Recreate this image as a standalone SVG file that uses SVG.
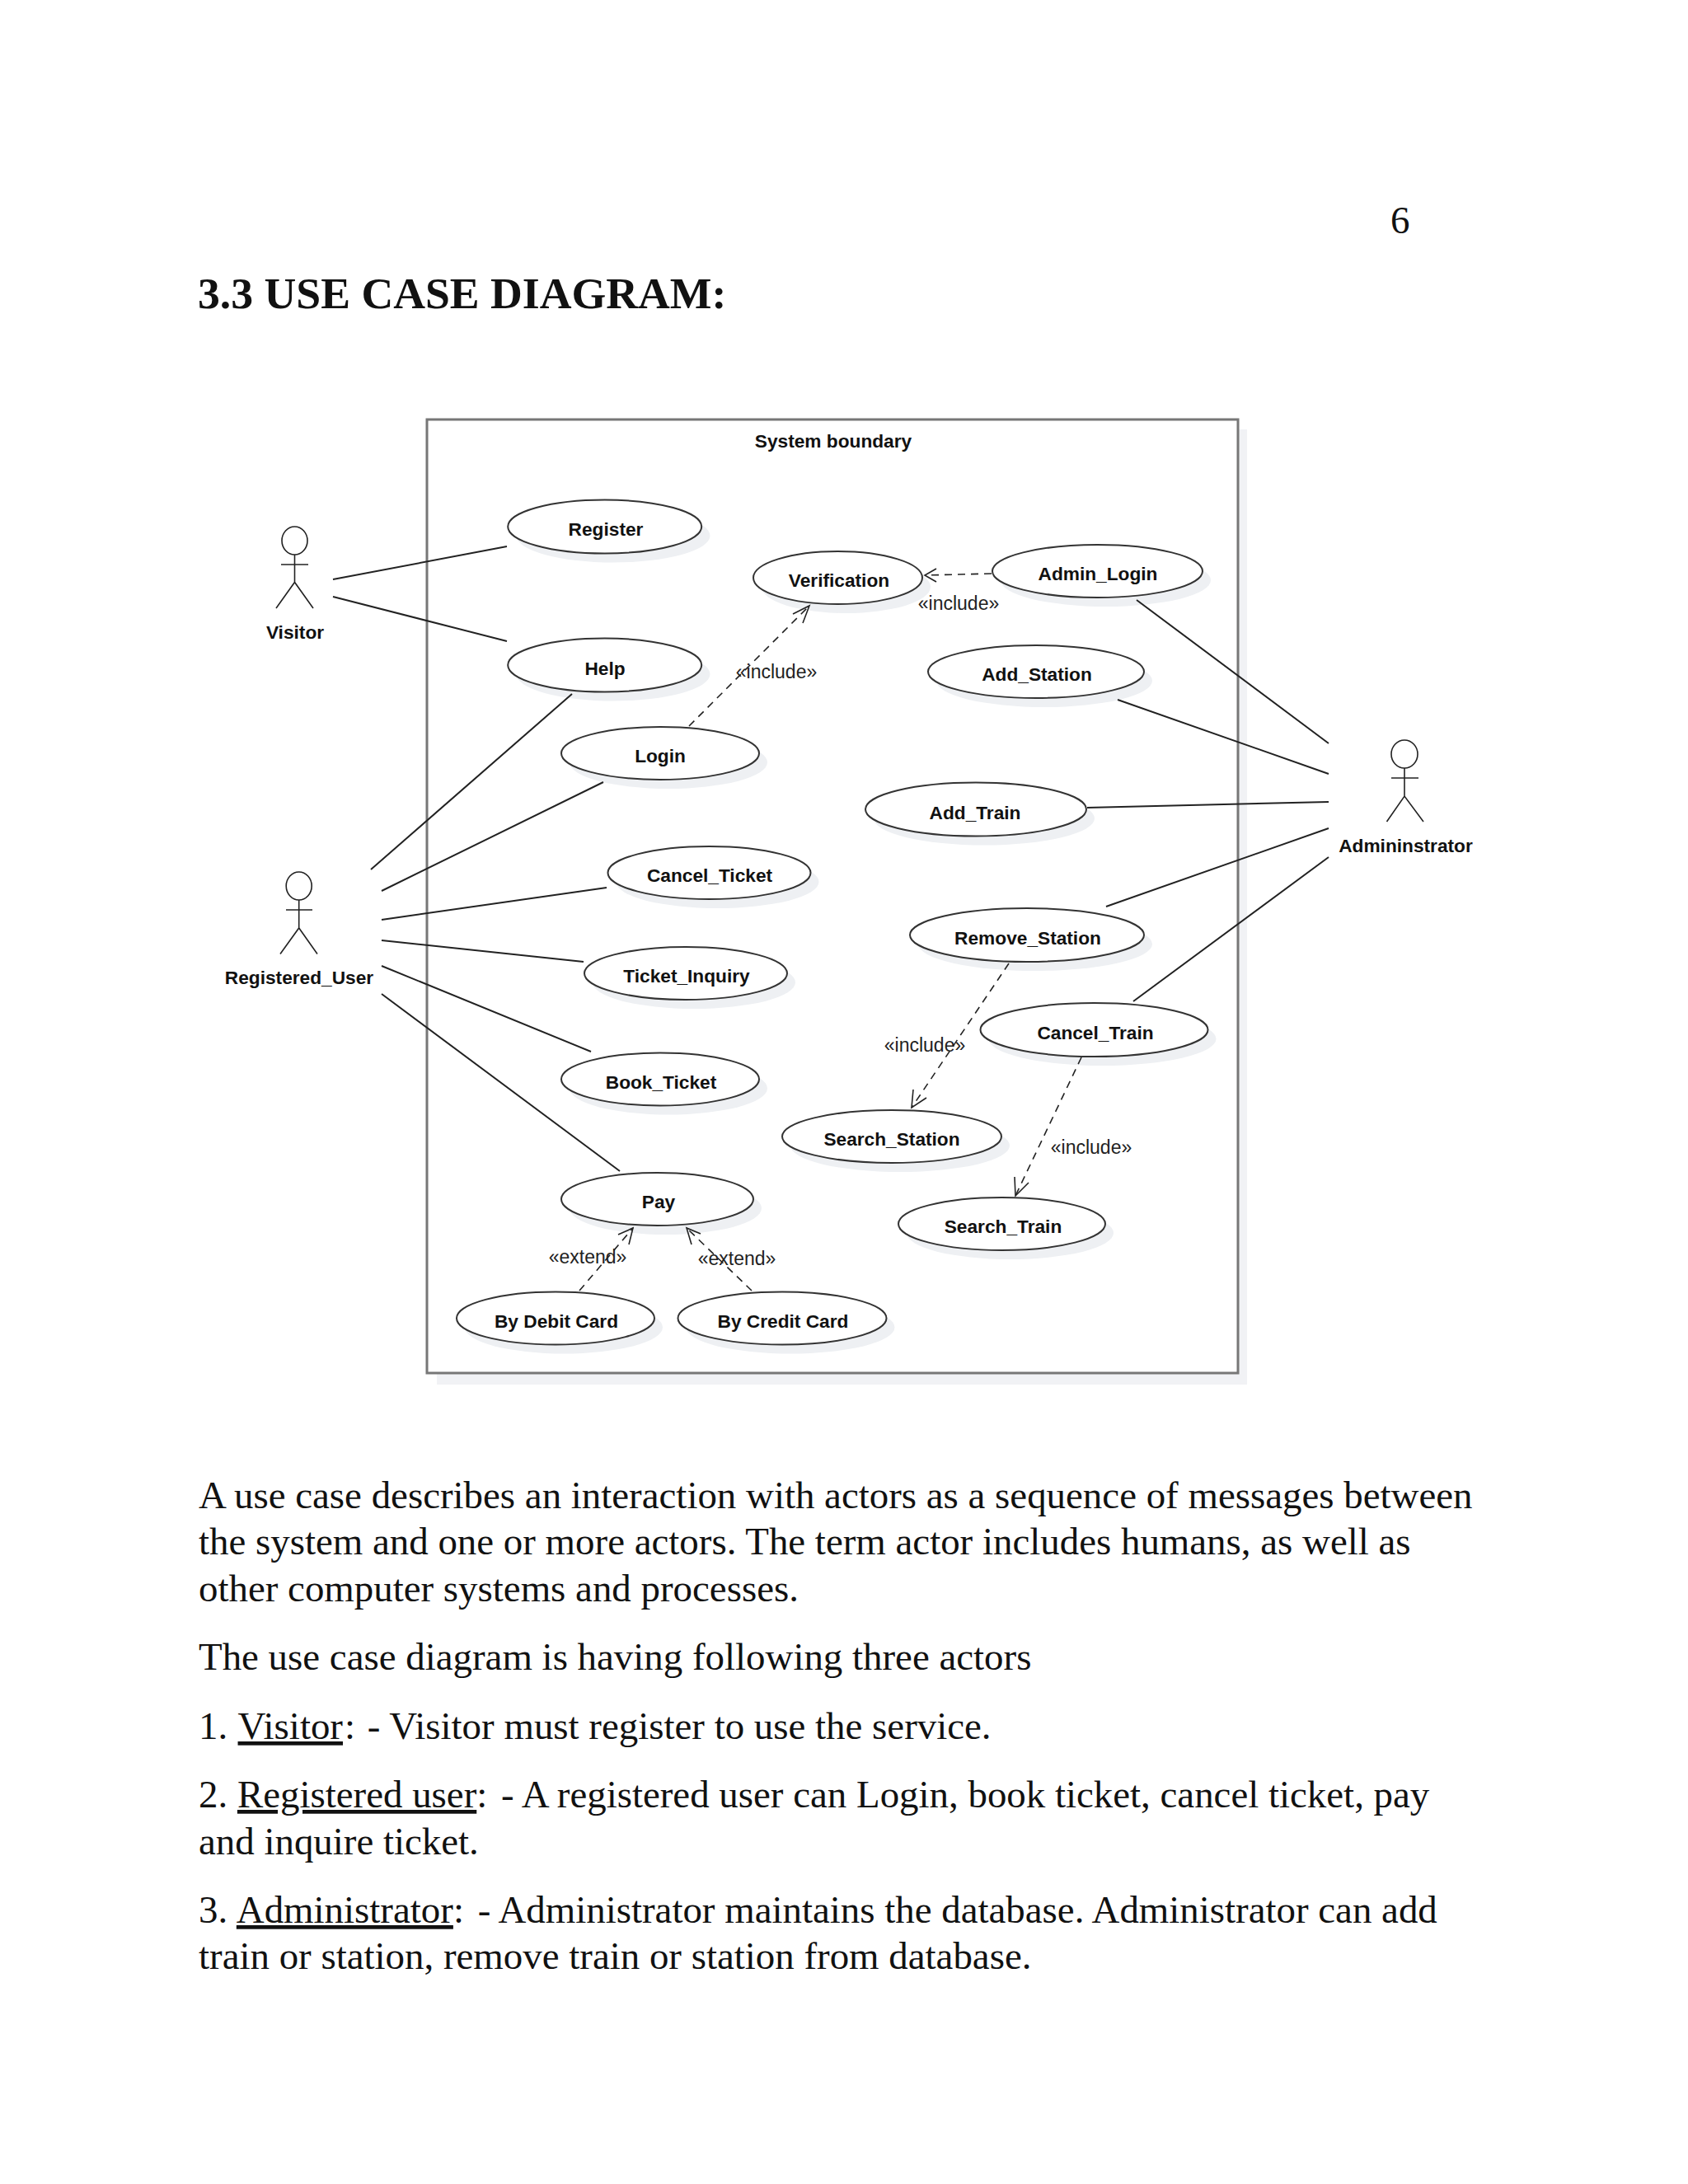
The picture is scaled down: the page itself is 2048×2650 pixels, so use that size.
<svg xmlns="http://www.w3.org/2000/svg" width="2048" height="2650" viewBox="0 0 2048 2650">
<style>
.b{font-family:"Liberation Serif","Times New Roman",serif;font-size:46.9px;fill:#111}
.h{font-family:"Liberation Serif","Times New Roman",serif;font-size:53.7px;font-weight:bold;fill:#111}
.n{font-family:"Liberation Sans",Arial,sans-serif;font-size:22.7px;font-weight:bold;fill:#111;text-anchor:middle}
.s{font-family:"Liberation Sans",Arial,sans-serif;font-size:23px;fill:#222;text-anchor:middle}
.e{fill:#fff;stroke:#333;stroke-width:2}
.sh{fill:#eef0f3;stroke:none}
.l{fill:none;stroke:#222;stroke-width:2}
.d{fill:none;stroke:#222;stroke-width:1.6;stroke-dasharray:9 7}
.a{fill:none;stroke:#222;stroke-width:1.6}
</style>
<rect width="2048" height="2650" fill="#fff"/>
<g id="page-text">
<text class="b" x="1687" y="283">6</text>
<text class="h" x="240" y="374">3.3 USE CASE DIAGRAM:</text>
<text class="b" x="241" y="1830">A use case describes an interaction with actors as a sequence of messages between</text>
<text class="b" x="241" y="1886">the system and one or more actors. The term actor includes humans, as well as</text>
<text class="b" x="241" y="1943">other computer systems and processes.</text>
<text class="b" x="241" y="2026">The use case diagram is having following three actors</text>
<text class="b" x="241" y="2110">1. <tspan dx="1.5" text-decoration="underline">Visitor</tspan><tspan dx="2">:</tspan><tspan dx="3"> - Visitor must register to use the service.</tspan></text>
<text class="b" x="241" y="2193">2. <tspan text-decoration="underline">Registered user</tspan>:<tspan dx="5"> - A registered user can Login, book ticket, cancel ticket, pay</tspan></text>
<text class="b" x="241" y="2250">and inquire ticket.</text>
<text class="b" x="241" y="2333">3. <tspan dx="1.5" text-decoration="underline">Administrator</tspan>:<tspan dx="5"> - Administrator maintains the database. Administrator can add</tspan></text>
<text class="b" x="241" y="2389">train or station, remove train or station from database.</text>
</g>
<g id="system-boundary">
<rect x="530" y="521" width="983" height="1159" fill="#f1f2f5"/>
<rect x="518" y="509" width="984" height="1157" fill="#fff" stroke="#777" stroke-width="3"/>
<text class="n" x="1011" y="543">System boundary</text>
</g>
<g id="actor-visitor"><ellipse cx="357.500" cy="656" rx="15.500" ry="17" fill="#fff" stroke="#222" stroke-width="1.600"/><path class="a" d="M341 685H374M357.500 673V706.500M335 738L357.500 706.500L380 738"/><text class="n" x="358" y="775">Visitor</text></g>
<g id="actor-registered-user"><ellipse cx="362.700" cy="1075" rx="15.500" ry="17" fill="#fff" stroke="#222" stroke-width="1.600"/><path class="a" d="M347 1104H379M362.700 1092V1126M340 1157.500L362.700 1126L385 1157.500"/><text class="n" x="363" y="1194">Registered_User</text></g>
<g id="actor-administrator"><ellipse cx="1704" cy="915" rx="16" ry="17" fill="#fff" stroke="#222" stroke-width="1.600"/><path class="a" d="M1688 944H1721M1704 932V966M1682.500 997L1704 966L1727 997"/><text class="n" x="1705.500" y="1034">Admininstrator</text></g>
<g id="uc-register"><ellipse class="sh" cx="744" cy="650" rx="117.500" ry="32.500"/><ellipse class="e" cx="733.700" cy="639" rx="117.500" ry="32.500"/><text class="n" x="735" y="650">Register</text></g>
<g id="uc-help"><ellipse class="sh" cx="744" cy="818" rx="117.500" ry="32.500"/><ellipse class="e" cx="733.700" cy="807" rx="117.500" ry="32.500"/><text class="n" x="734" y="819">Help</text></g>
<g id="uc-login"><ellipse class="sh" cx="811" cy="925" rx="120" ry="32"/><ellipse class="e" cx="801" cy="914" rx="120" ry="32"/><text class="n" x="801" y="925">Login</text></g>
<g id="uc-cancel-ticket"><ellipse class="sh" cx="870.500" cy="1070" rx="123" ry="32"/><ellipse class="e" cx="860.500" cy="1059" rx="123" ry="32"/><text class="n" x="861" y="1070">Cancel_Ticket</text></g>
<g id="uc-ticket-inquiry"><ellipse class="sh" cx="842" cy="1192" rx="123" ry="32"/><ellipse class="e" cx="832" cy="1181" rx="123" ry="32"/><text class="n" x="833" y="1192">Ticket_Inquiry</text></g>
<g id="uc-book-ticket"><ellipse class="sh" cx="811" cy="1320.500" rx="120" ry="32"/><ellipse class="e" cx="801" cy="1309.500" rx="120" ry="32"/><text class="n" x="802" y="1321">Book_Ticket</text></g>
<g id="uc-pay"><ellipse class="sh" cx="807.500" cy="1466" rx="116.500" ry="32"/><ellipse class="e" cx="797.500" cy="1455" rx="116.500" ry="32"/><text class="n" x="799" y="1466">Pay</text></g>
<g id="uc-debit"><ellipse class="sh" cx="684" cy="1610.500" rx="120" ry="32"/><ellipse class="e" cx="674" cy="1599.500" rx="120" ry="32"/><text class="n" x="675" y="1611">By Debit Card</text></g>
<g id="uc-credit"><ellipse class="sh" cx="959" cy="1610.500" rx="126.500" ry="32"/><ellipse class="e" cx="949" cy="1599.500" rx="126.500" ry="32"/><text class="n" x="950" y="1611">By Credit Card</text></g>
<g id="uc-verification"><ellipse class="sh" cx="1026.500" cy="712" rx="102.500" ry="32"/><ellipse class="e" cx="1016.500" cy="701" rx="102.500" ry="32"/><text class="n" x="1018" y="712">Verification</text></g>
<g id="uc-admin-login"><ellipse class="sh" cx="1341.500" cy="704" rx="127.500" ry="32"/><ellipse class="e" cx="1331.500" cy="693" rx="127.500" ry="32"/><text class="n" x="1332" y="704">Admin_Login</text></g>
<g id="uc-add-station"><ellipse class="sh" cx="1267" cy="826" rx="131" ry="32"/><ellipse class="e" cx="1257" cy="815" rx="131" ry="32"/><text class="n" x="1258" y="826">Add_Station</text></g>
<g id="uc-add-train"><ellipse class="sh" cx="1194" cy="993" rx="134" ry="32.500"/><ellipse class="e" cx="1184" cy="982" rx="134" ry="32.500"/><text class="n" x="1183" y="994">Add_Train</text></g>
<g id="uc-remove-station"><ellipse class="sh" cx="1256" cy="1145.500" rx="142" ry="32.500"/><ellipse class="e" cx="1246" cy="1134.500" rx="142" ry="32.500"/><text class="n" x="1247" y="1146">Remove_Station</text></g>
<g id="uc-cancel-train"><ellipse class="sh" cx="1337.500" cy="1260.500" rx="138" ry="32.500"/><ellipse class="e" cx="1327.500" cy="1249.500" rx="138" ry="32.500"/><text class="n" x="1329" y="1261">Cancel_Train</text></g>
<g id="uc-search-station"><ellipse class="sh" cx="1092" cy="1390" rx="133" ry="32"/><ellipse class="e" cx="1082" cy="1379" rx="133" ry="32"/><text class="n" x="1082" y="1390">Search_Station</text></g>
<g id="uc-search-train"><ellipse class="sh" cx="1225.500" cy="1496" rx="125.500" ry="32"/><ellipse class="e" cx="1215.500" cy="1485" rx="125.500" ry="32"/><text class="n" x="1217" y="1496">Search_Train</text></g>
<g id="connectors">
<path class="l" d="M404 703L615 663M404 724L615 778M450 1055L694 842M463 1081L732 949M463 1116L736 1077M463 1141L708 1167M463 1172L717 1276M463 1206L752 1421M1379 728L1612 902M1356 849L1612 939M1319 980L1612 973M1342 1100L1612 1005M1612 1040L1375 1215"/>
<path class="d" d="M836 881L982 735M1203 696L1122 698M1224 1169L1106 1344M1312 1283L1232 1451M703 1566L768 1490M912 1566L833 1490"/>
<path class="a" d="M962 745L982 735L974 756M1136 690L1122 698L1136 706M1108 1322L1106 1344L1124 1332M1231 1428L1232 1451L1248 1435M750 1498L768 1490L763 1510M850 1497L833 1490L839 1510"/>
<text class="s" x="942" y="823">«include»</text>
<text class="s" x="1163" y="740">«include»</text>
<text class="s" x="1122" y="1276">«include»</text>
<text class="s" x="1324" y="1400">«include»</text>
<text class="s" x="713" y="1533">«extend»</text>
<text class="s" x="894" y="1535">«extend»</text>
</g>
</svg>
